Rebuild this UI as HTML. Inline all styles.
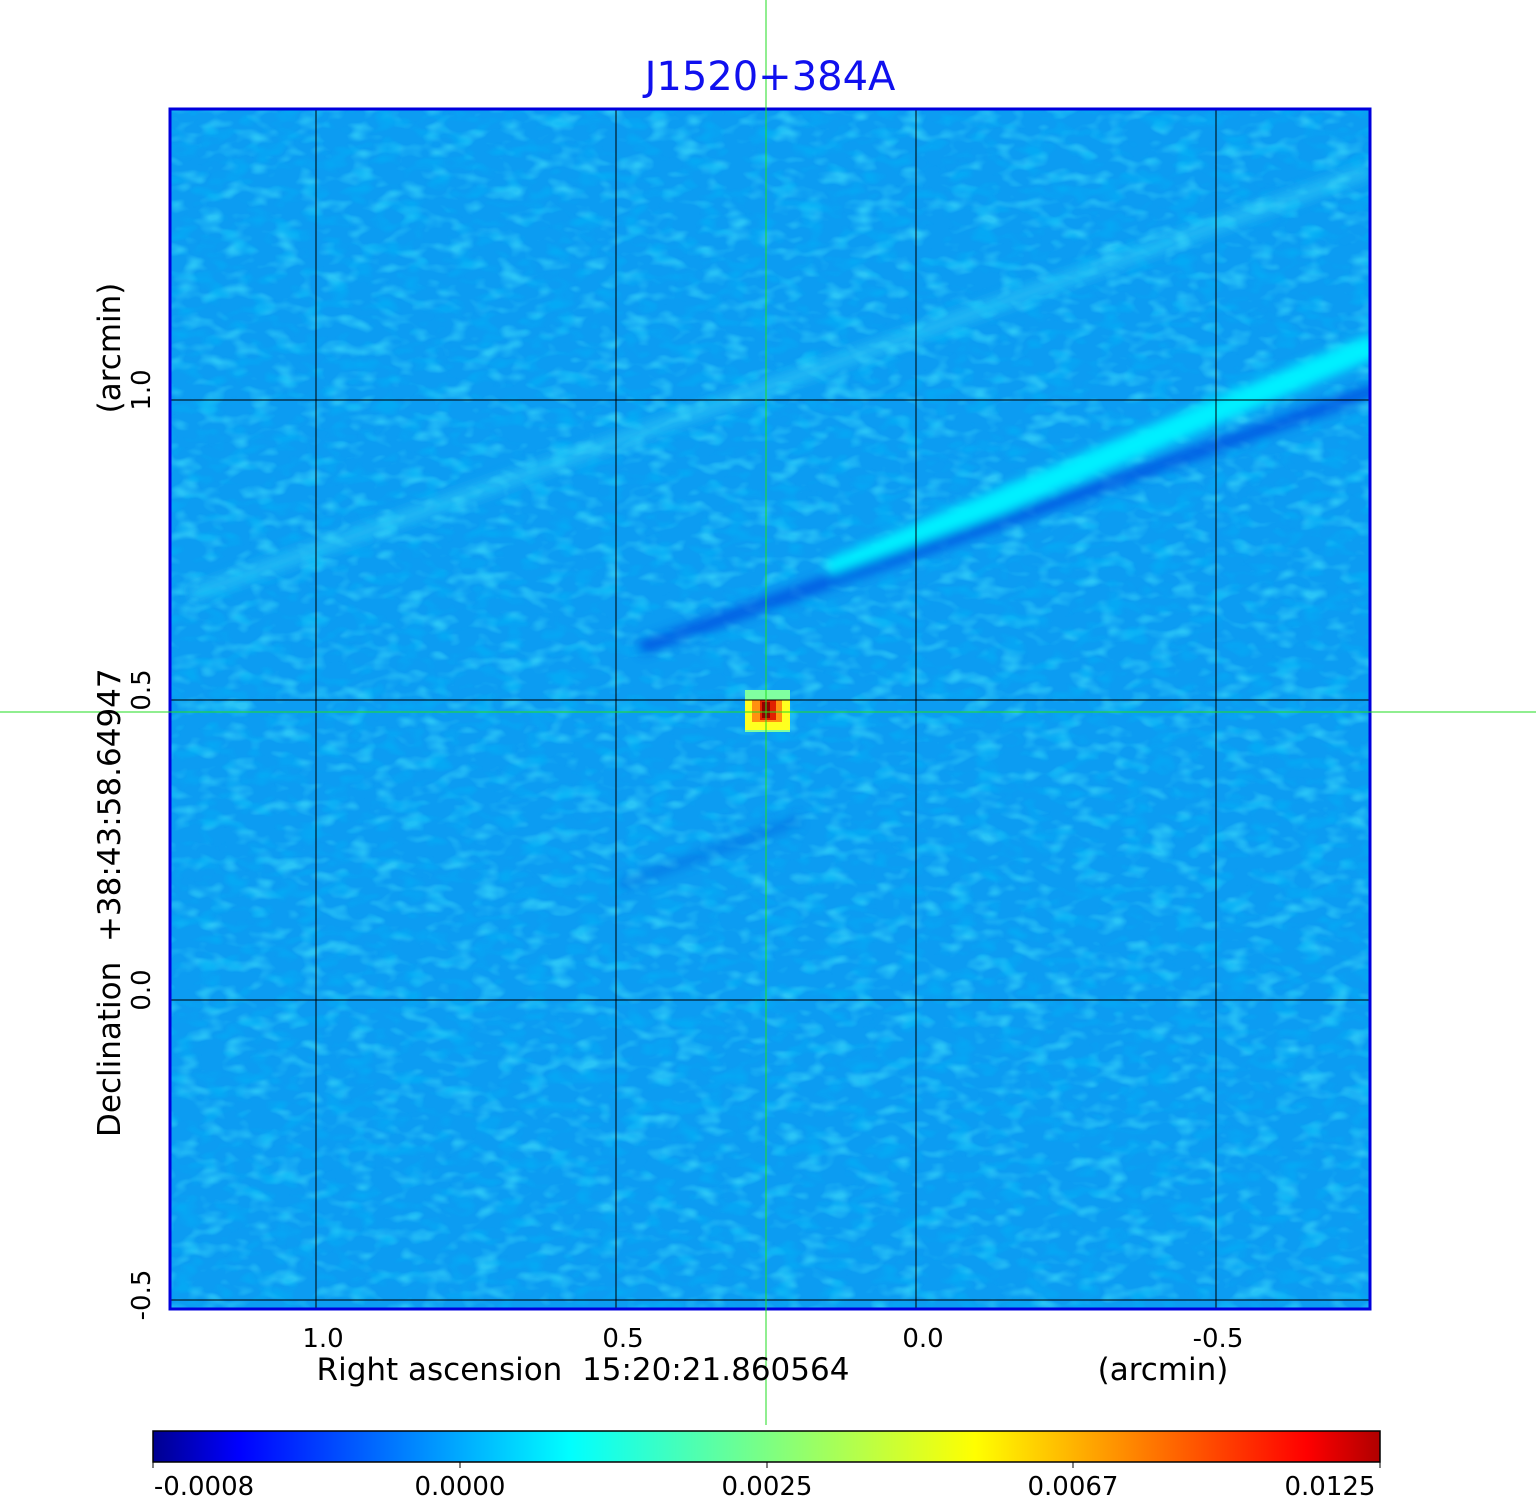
<!DOCTYPE html>
<html><head><meta charset="utf-8"><style>
body{margin:0;width:1536px;height:1500px;background:#fff;overflow:hidden;font-family:"DejaVu Sans","Liberation Sans",sans-serif}
</style></head><body>
<svg width="1536" height="1500" xmlns="http://www.w3.org/2000/svg" style="position:absolute;left:0;top:0">
<defs>
<filter id="n1" x="0" y="0" width="100%" height="100%">
<feTurbulence type="fractalNoise" baseFrequency="0.04 0.07" numOctaves="2" seed="3" result="t"/>
<feColorMatrix in="t" type="matrix" values="0 0 0 0 0.05  0 0 0 0 0.75  0 0 0 0 0.97  0 0 0 3 -1.5" result="c"/>
<feComposite in="c" in2="SourceGraphic" operator="in"/>
</filter>
<filter id="n2" x="0" y="0" width="100%" height="100%">
<feTurbulence type="fractalNoise" baseFrequency="0.04 0.07" numOctaves="2" seed="11" result="t"/>
<feColorMatrix in="t" type="matrix" values="0 0 0 0 0.0  0 0 0 0 0.45  0 0 0 0 0.93  0 0 0 3 -1.5" result="c"/>
<feComposite in="c" in2="SourceGraphic" operator="in"/>
</filter>
<filter id="b"><feGaussianBlur stdDeviation="5"/></filter>
<linearGradient id="cb" x1="0" x2="1">
<stop offset="0" stop-color="#00008f"/>
<stop offset="0.07" stop-color="#0000ff"/>
<stop offset="0.34" stop-color="#00ffff"/>
<stop offset="0.67" stop-color="#ffff00"/>
<stop offset="0.94" stop-color="#ff0000"/>
<stop offset="1" stop-color="#b00000"/>
</linearGradient>
<clipPath id="cl"><rect x="170" y="108" width="1200" height="1202"/></clipPath>
</defs>
<g clip-path="url(#cl)">
<rect x="170" y="108" width="1200" height="1202" fill="#0c9cf2"/>
<rect x="170" y="108" width="1200" height="1202" fill="#fff" filter="url(#n1)" opacity="0.6"/>
<rect x="170" y="108" width="1200" height="1202" fill="#fff" filter="url(#n2)" opacity="0.6"/>
<g filter="url(#b)">
<line x1="190" y1="595" x2="1370" y2="170" stroke="#30d0f8" stroke-width="16" opacity="0.5"/>
<line x1="830" y1="572" x2="1375" y2="345" stroke="#00f0ff" stroke-width="24"/>
<line x1="640" y1="648" x2="1375" y2="390" stroke="#0050e0" stroke-width="14" opacity="0.8"/>
<line x1="620" y1="885" x2="800" y2="820" stroke="#0060e0" stroke-width="10" opacity="0.5"/>
</g>
<rect x="745" y="690" width="45" height="42" fill="#80ffa0"/>
<rect x="745" y="700" width="45" height="30" fill="#ffff20"/>
<rect x="752" y="700" width="30" height="22" fill="#ff9010"/>
<rect x="760" y="700" width="16" height="20" fill="#e02000"/>
<rect x="762" y="702" width="8" height="16" fill="#900000"/>
<g stroke="#000" stroke-width="1">
<line x1="316" y1="108" x2="316" y2="1310"/><line x1="616" y1="108" x2="616" y2="1310"/>
<line x1="916" y1="108" x2="916" y2="1310"/><line x1="1216" y1="108" x2="1216" y2="1310"/>
<line x1="170" y1="400" x2="1370" y2="400"/><line x1="170" y1="700" x2="1370" y2="700"/>
<line x1="170" y1="1000" x2="1370" y2="1000"/><line x1="170" y1="1300" x2="1370" y2="1300"/>
</g>
</g>
<rect x="170" y="109" width="1200" height="1200" fill="none" stroke="#0000dd" stroke-width="3"/>
<line x1="766" y1="0" x2="766" y2="1425" stroke="#22dd22" stroke-width="1"/>
<line x1="0" y1="712" x2="1536" y2="712" stroke="#22dd22" stroke-width="1"/>
<text x="770" y="90" font-size="40" fill="#1010ee" text-anchor="middle">J1520+384A</text>
<g font-size="26" fill="#000" text-anchor="middle">
<text x="323" y="1347">1.0</text><text x="623" y="1347">0.5</text>
<text x="923" y="1347">0.0</text><text x="1218" y="1347">-0.5</text>
<text transform="translate(150,390) rotate(-90)">1.0</text>
<text transform="translate(150,690) rotate(-90)">0.5</text>
<text transform="translate(150,990) rotate(-90)">0.0</text>
<text transform="translate(150,1295) rotate(-90)">-0.5</text>
</g>
<g font-size="31" fill="#000">
<text x="583" y="1380" text-anchor="middle" xml:space="preserve">Right ascension  15:20:21.860564</text>
<text x="1163" y="1380" text-anchor="middle">(arcmin)</text>
<text transform="translate(120,1137) rotate(-90)" xml:space="preserve">Declination  +38:43:58.64947</text>
<text transform="translate(120,348) rotate(-90)" text-anchor="middle">(arcmin)</text>
</g>
<rect x="153" y="1431" width="1227" height="31" fill="url(#cb)" stroke="#000" stroke-width="1.5"/>
<g stroke="#000" stroke-width="1">
<line x1="153" y1="1462" x2="153" y2="1468"/><line x1="460" y1="1462" x2="460" y2="1468"/>
<line x1="767" y1="1462" x2="767" y2="1468"/><line x1="1073" y1="1462" x2="1073" y2="1468"/>
<line x1="1380" y1="1462" x2="1380" y2="1468"/>
</g>
<g font-size="26" fill="#000" text-anchor="middle">
<text x="204" y="1495">-0.0008</text><text x="460" y="1495">0.0000</text>
<text x="767" y="1495">0.0025</text><text x="1073" y="1495">0.0067</text>
<text x="1330" y="1495">0.0125</text>
</g>
</svg>
</body></html>
